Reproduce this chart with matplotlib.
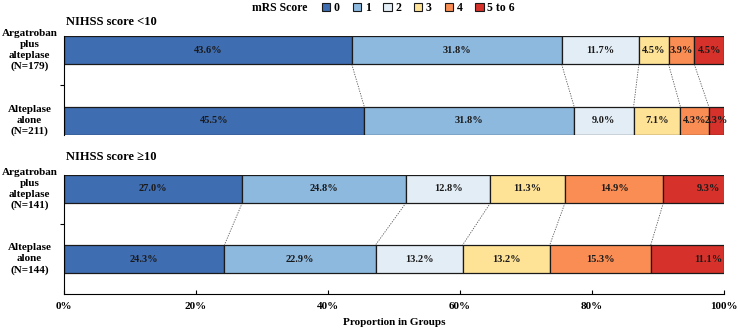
import matplotlib
matplotlib.use("Agg")
import matplotlib.pyplot as plt
import numpy as np
from matplotlib.patches import Patch

plt.rcParams["font.family"] = ["Liberation Serif", "DejaVu Serif"]
plt.rcParams["font.weight"] = "bold"

# mRS categories and colours
categories = ["0", "1", "2", "3", "4", "5 to 6"]
colors = ["#3F6DB1", "#8DB9DF", "#E3EDF5", "#FEE296", "#F98D53", "#D6312A"]

# group labels (top bar first)
group_labels = ["Argatroban\nplus\nalteplase\n(N={})", "Alteplase\nalone\n(N={})"]

# NIHSS score <10
low_n = [179, 211]
low_arg = [43.6, 31.8, 11.7, 4.5, 3.9, 4.5]
low_alt = [45.5, 31.8, 9.0, 7.1, 4.3, 2.3]

# NIHSS score >=10
high_n = [141, 144]
high_arg = [27.0, 24.8, 12.8, 11.3, 14.9, 9.3]
high_alt = [24.3, 22.9, 13.2, 13.2, 15.3, 11.1]

panels = [
    ("NIHSS score <10", low_n, low_arg, low_alt),
    ("NIHSS score \u226510", high_n, high_arg, high_alt),
]

W, H = 738, 329
fig = plt.figure(figsize=(W / 100, H / 100), dpi=100)

left = 64 / W
width = 660 / W
ax_top = fig.add_axes([left, 1 - 135 / H, width, 99 / H])
ax_bot = fig.add_axes([left, 1 - 294 / H, width, 119 / H])

bar_h = 0.4


def draw_panel(ax, title, ns, arg, alt, ymin, title_y):
    rows = [(1, arg), (0, alt)]
    cums = []
    for y, vals in rows:
        starts = np.concatenate([[0], np.cumsum(vals)[:-1]])
        ax.barh([y] * len(vals), vals, left=starts, height=bar_h,
                color=colors, edgecolor="#1a1a1a", linewidth=0.9, zorder=2)
        for i, (s, v) in enumerate(zip(starts, vals)):
            xc = s + v / 2
            if i == len(vals) - 1:
                xc = max(xc, 97.6)
            ax.text(xc, y, f"{v:.1f}%", ha="center", va="center",
                    fontsize=7.5, fontweight="bold", color="#1a1a1a", zorder=3)
        cums.append(np.cumsum(vals))
    # dotted connectors between bars
    for a, b in zip(cums[0], cums[1]):
        ax.plot([min(a, 100), min(b, 100)], [1 - bar_h / 2, bar_h / 2],
                color="#555555", lw=0.6, ls=(0, (1.5, 1.5)), zorder=1)
    for (y, _), n, lab in zip(rows, ns, group_labels):
        ax.text(-0.052, y, lab.format(n), transform=ax.get_yaxis_transform(),
                ha="center", va="center", fontsize=8, fontweight="bold",
                linespacing=1.25)
    ax.set_xlim(0, 100)
    ax.set_ylim(ymin, 1 + bar_h / 2)
    ax.set_yticks([0.5])
    ax.set_yticklabels([""])
    ax.tick_params(axis="y", length=3, width=0.8)
    ax.spines["top"].set_visible(False)
    ax.spines["right"].set_visible(False)
    ax.text(0.003, title_y, title, transform=ax.transAxes, ha="left",
            va="bottom", fontsize=9, fontweight="bold")


draw_panel(ax_top, *panels[0], ymin=-bar_h / 2, title_y=1.08)
draw_panel(ax_bot, *panels[1], ymin=-0.5, title_y=1.1)

ax_top.spines["bottom"].set_visible(False)
ax_top.set_xticks([])

ax_bot.set_xticks(np.arange(0, 101, 20))
ax_bot.set_xticklabels([f"{t}%" for t in range(0, 101, 20)], fontsize=8,
                       fontweight="bold")
ax_bot.tick_params(axis="x", direction="in", length=3, width=0.8, pad=6)
ax_bot.set_xlabel("Proportion in Groups", fontsize=8, fontweight="bold",
                  labelpad=5)

# legend on top
fig.text(307 / W, 1 - 8 / H, "mRS Score", ha="right", va="center",
         fontsize=8.5, fontweight="bold")
handles = [Patch(facecolor=c, edgecolor="#1a1a1a", linewidth=0.8)
           for c in colors]
fig.legend(handles, categories, loc="center left",
           bbox_to_anchor=(322 / W, 1 - 8 / H), ncol=6, frameon=False,
           fontsize=8.5, handlelength=0.7, handleheight=0.7, handletextpad=0.3,
           columnspacing=1.1, borderpad=0, borderaxespad=0)

fig.savefig("out.png", dpi=100)
